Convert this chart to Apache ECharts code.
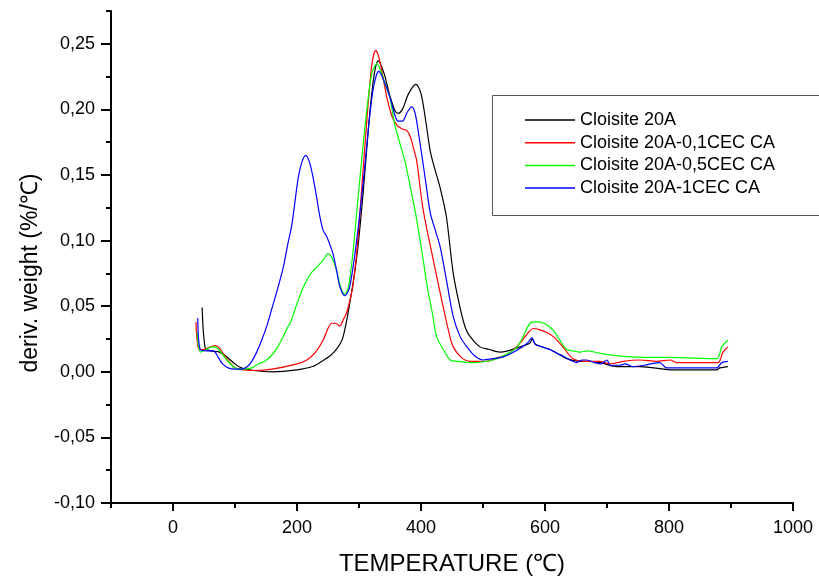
<!DOCTYPE html>
<html>
<head>
<meta charset="utf-8">
<script src="https://cdn.jsdelivr.net/npm/echarts@6/dist/echarts.min.js"></script>
<style>
html,body{margin:0;padding:0;background:#fff;}
#chart{width:819px;height:581px;}
</style>
</head>
<body>
<div id="chart"></div>
<script>
// ---- Data (temperature °C, deriv. weight %/°C) ----
const seriesNames = ['Cloisite 20A', 'Cloisite 20A-0,1CEC CA', 'Cloisite 20A-0,5CEC CA', 'Cloisite 20A-1CEC CA'];

const cloisite20A = [[47,0.049],[52,0.018],[60,0.016],[75,0.015],[85,0.012],[100,0.006],[110,0.003],[130,0.001],[160,0.000],[200,0.0015],[225,0.004],[240,0.008],[253,0.012],[265,0.018],[274,0.026],[285,0.052],[297,0.09],[307,0.138],[316,0.19],[324,0.225],[331,0.237],[340,0.228],[350,0.21],[358,0.199],[363,0.197],[370,0.20],[380,0.212],[392,0.219],[400,0.212],[408,0.19],[415,0.168],[422,0.155],[431,0.14],[441,0.118],[452,0.075],[463,0.049],[472,0.033],[479,0.027],[495,0.019],[510,0.017],[527,0.015],[540,0.016],[560,0.019],[576,0.022],[579,0.025],[585,0.021],[608,0.017],[620,0.014],[635,0.010],[656,0.008],[670,0.008],[689,0.007],[716,0.004],[753,0.004],[775,0.003],[806,0.0015],[877,0.0015],[882,0.003],[895,0.004]];

const cloisite01CEC = [[37,0.038],[42,0.017],[50,0.017],[60,0.019],[68,0.02],[75,0.018],[85,0.011],[100,0.003],[115,0.0015],[130,0.001],[160,0.002],[200,0.006],[216,0.009],[230,0.015],[242,0.024],[250,0.033],[256,0.037],[262,0.037],[269,0.035],[275,0.04],[280,0.045],[290,0.065],[298,0.10],[306,0.15],[314,0.20],[321,0.235],[327,0.245],[333,0.238],[345,0.209],[353,0.195],[361,0.188],[370,0.185],[377,0.184],[383,0.179],[387,0.172],[393,0.161],[403,0.125],[419,0.087],[436,0.049],[445,0.03],[452,0.019],[465,0.011],[479,0.008],[506,0.008],[525,0.011],[539,0.013],[560,0.022],[575,0.031],[581,0.033],[592,0.032],[603,0.03],[613,0.027],[629,0.019],[645,0.010],[667,0.008],[688,0.008],[705,0.006],[726,0.008],[753,0.009],[780,0.008],[802,0.009],[812,0.007],[850,0.007],[879,0.007],[887,0.015],[895,0.019]];

const cloisite05CEC = [[39,0.030],[44,0.015],[50,0.016],[63,0.019],[72,0.018],[85,0.01],[100,0.003],[115,0.002],[127,0.003],[138,0.006],[148,0.008],[160,0.013],[169,0.019],[178,0.027],[185,0.034],[189,0.037],[195,0.045],[200,0.052],[208,0.062],[216,0.070],[224,0.076],[232,0.080],[242,0.085],[250,0.090],[255,0.088],[260,0.083],[265,0.075],[270,0.065],[277,0.059],[283,0.065],[290,0.09],[298,0.13],[306,0.17],[314,0.205],[321,0.228],[329,0.235],[336,0.228],[343,0.218],[350,0.209],[357,0.19],[366,0.174],[374,0.161],[381,0.145],[387,0.131],[393,0.116],[403,0.087],[410,0.065],[419,0.043],[425,0.027],[436,0.017],[447,0.009],[458,0.008],[484,0.007],[516,0.009],[527,0.011],[545,0.015],[555,0.019],[565,0.027],[576,0.037],[587,0.038],[598,0.037],[608,0.034],[616,0.03],[624,0.024],[635,0.017],[645,0.016],[656,0.015],[668,0.016],[689,0.014],[721,0.012],[769,0.011],[800,0.011],[877,0.010],[885,0.019],[895,0.024]];

const cloisite1CEC = [[40,0.041],[44,0.017],[55,0.016],[65,0.016],[73,0.011],[80,0.006],[89,0.003],[100,0.002],[111,0.002],[120,0.004],[127,0.008],[135,0.015],[143,0.024],[152,0.036],[160,0.049],[168,0.062],[178,0.080],[185,0.097],[192,0.113],[202,0.148],[208,0.16],[214,0.165],[220,0.16],[226,0.148],[232,0.132],[237,0.118],[242,0.108],[248,0.103],[253,0.097],[258,0.090],[264,0.077],[269,0.065],[277,0.058],[284,0.063],[292,0.085],[300,0.115],[308,0.15],[315,0.185],[322,0.213],[328,0.226],[332,0.229],[340,0.222],[350,0.209],[357,0.197],[363,0.191],[370,0.191],[378,0.198],[385,0.202],[390,0.198],[395,0.185],[402,0.163],[409,0.14],[415,0.121],[423,0.108],[431,0.095],[441,0.070],[452,0.042],[463,0.027],[474,0.019],[487,0.012],[500,0.009],[515,0.010],[530,0.011],[545,0.014],[560,0.018],[572,0.022],[579,0.026],[584,0.021],[595,0.019],[608,0.017],[620,0.014],[629,0.012],[640,0.009],[651,0.007],[660,0.009],[667,0.009],[680,0.007],[690,0.006],[700,0.009],[705,0.005],[721,0.005],[729,0.006],[742,0.004],[760,0.005],[770,0.006],[785,0.007],[796,0.003],[833,0.003],[877,0.003],[885,0.007],[895,0.008]];

const xMajorTicks = [0, 200, 400, 600, 800, 1000];
const xMinorTicks = [-100, 100, 300, 500, 700, 900];
const yMajorTicks = [-0.10, -0.05, 0.00, 0.05, 0.10, 0.15, 0.20, 0.25];
const yMinorTicks = [-0.075, -0.025, 0.025, 0.075, 0.125, 0.175, 0.225, 0.275];

const colors = ['#000000', '#ff0000', '#00ff00', '#0000ff'];
const allData = [cloisite20A, cloisite01CEC, cloisite05CEC, cloisite1CEC];

const FONT = '"Liberation Sans", Arial, sans-serif';
const X_MIN = -100, X_MAX = 1000, Y_MIN = -0.10, Y_MAX = 0.275;

const chart = echarts.init(document.getElementById('chart'), null, {renderer: 'canvas'});

const baseX = {
  type: 'value', min: X_MIN, max: X_MAX, splitLine: {show: false}
};
const baseY = {
  type: 'value', min: Y_MIN, max: Y_MAX, splitLine: {show: false}
};

const option = {
  animation: false,
  backgroundColor: '#fff',
  textStyle: {fontFamily: FONT},
  grid: {left: 111, right: 26, top: 11, bottom: 78, containLabel: false},
  legend: {
    orient: 'vertical',
    left: 525, top: 111,
    padding: 0,
    itemWidth: 50, itemHeight: 1.5,
    itemGap: 4.7,
    icon: 'rect',
    textStyle: {fontFamily: FONT, fontSize: 18, color: '#000', lineHeight: 18, padding: [0,0,0,0]},
    data: seriesNames
  },
  graphic: [{
    type: 'rect',
    shape: {x: 492.5, y: 95.5, width: 340, height: 120},
    style: {fill: 'none', stroke: '#555', lineWidth: 1},
    z: 1
  }],
  xAxis: [
    Object.assign({}, baseX, {
      position: 'bottom',
      name: 'TEMPERATURE (℃)',
      nameLocation: 'middle',
      nameGap: 49,
      nameTextStyle: {fontFamily: FONT, fontSize: 24, color: '#000'},
      axisLine: {show: true, onZero: false, lineStyle: {color: '#000', width: 2}},
      axisTick: {show: true, inside: false, length: 8, lineStyle: {color: '#000', width: 2}, customValues: xMajorTicks},
      axisLabel: {show: true, margin: 16, fontFamily: FONT, fontSize: 18, color: '#000', customValues: xMajorTicks,
        formatter: v => String(Math.round(v))}
    }),
    Object.assign({}, baseX, {
      position: 'bottom',
      axisLine: {show: false, onZero: false},
      axisTick: {show: true, inside: false, length: 5, lineStyle: {color: '#000', width: 2}, customValues: xMinorTicks},
      axisLabel: {show: false}
    })
  ],
  yAxis: [
    Object.assign({}, baseY, {
      position: 'left',
      name: 'deriv. weight (%/℃)',
      nameLocation: 'middle',
      nameGap: 69,
      nameTextStyle: {fontFamily: FONT, fontSize: 23, color: '#000', padding: [0, 32, 0, 0]},
      axisLine: {show: true, onZero: false, lineStyle: {color: '#000', width: 2}},
      axisTick: {show: true, inside: false, length: 10, lineStyle: {color: '#000', width: 2}, customValues: yMajorTicks},
      axisLabel: {show: true, margin: 16, fontFamily: FONT, fontSize: 18, color: '#000', customValues: yMajorTicks,
        formatter: v => v.toFixed(2).replace('.', ',').replace('-0,00', '0,00')}
    }),
    Object.assign({}, baseY, {
      position: 'left',
      axisLine: {show: false, onZero: false},
      axisTick: {show: true, inside: false, length: 5, lineStyle: {color: '#000', width: 2}, customValues: yMinorTicks},
      axisLabel: {show: false}
    })
  ],
  series: seriesNames.map((name, i) => ({
    name: name,
    type: 'line',
    xAxisIndex: 0,
    yAxisIndex: 0,
    data: allData[i],
    showSymbol: false,
    smooth: 0.3,
    color: colors[i],
    lineStyle: {color: colors[i], width: 1.2},
    z: 3
  }))
};

chart.setOption(option);
</script>
</body>
</html>
